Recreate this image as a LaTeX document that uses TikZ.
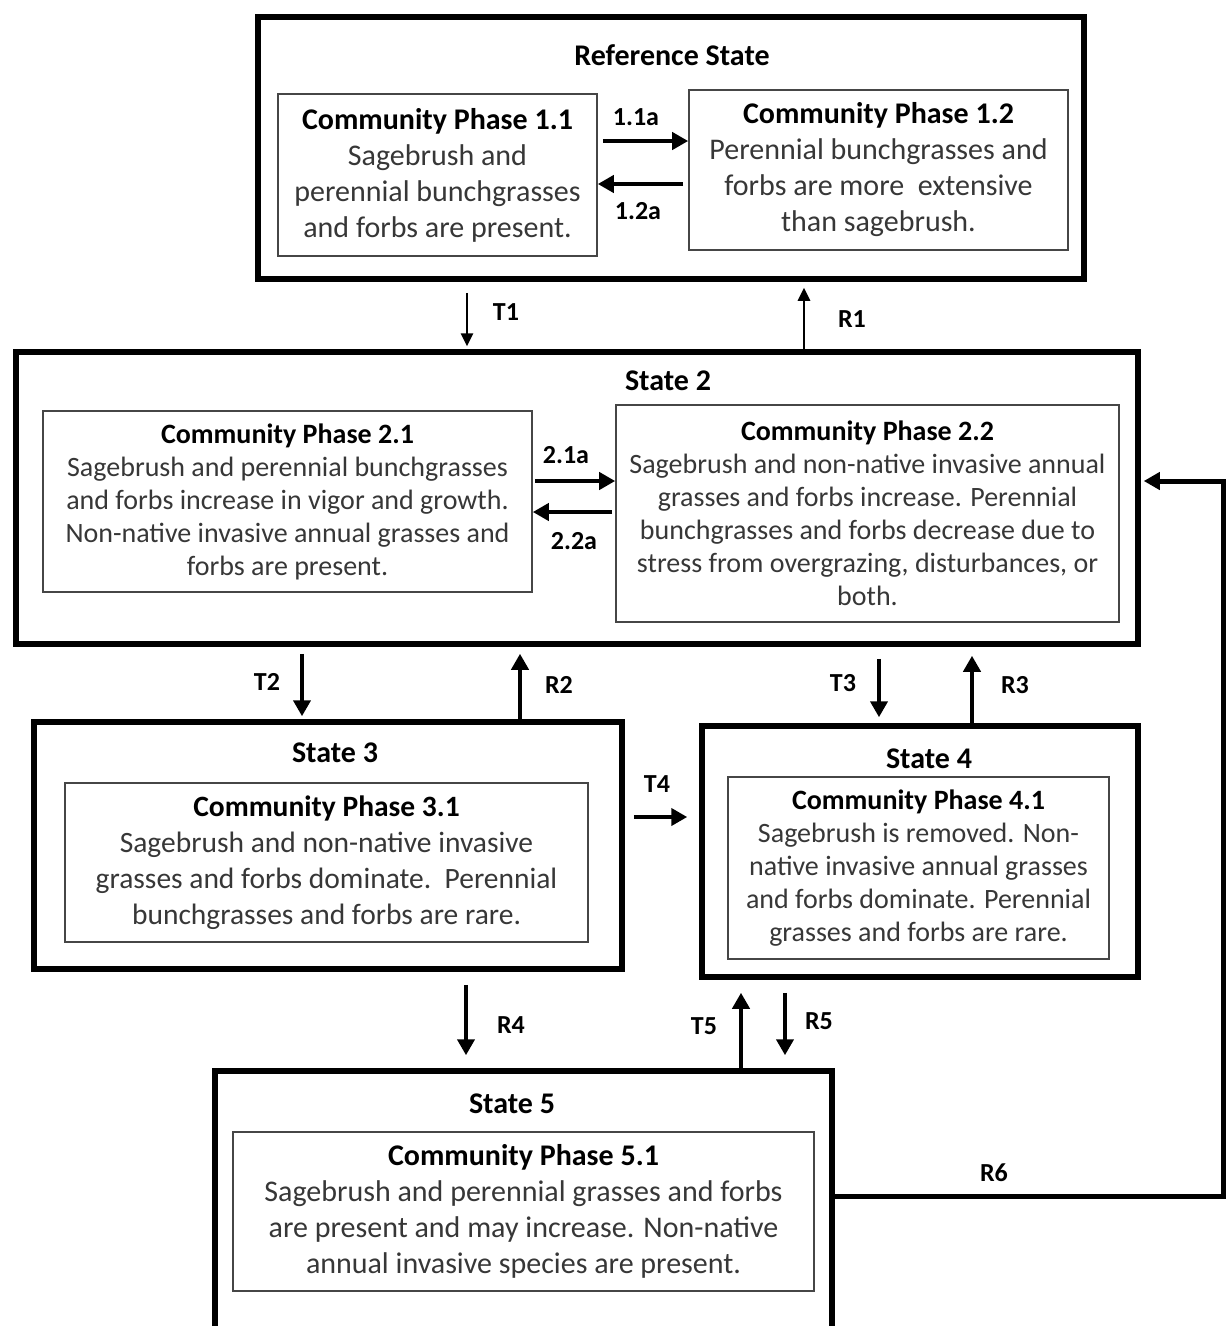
\documentclass[tikz,border=0pt]{standalone}
\usepackage{fontspec}
\setmainfont{Carlito}
\usetikzlibrary{arrows.meta,calc}
\definecolor{bodytxt}{RGB}{55,55,55}
\definecolor{innerln}{RGB}{70,70,70}
\begin{document}
\begin{tikzpicture}[x=1pt,y=-1pt,
  statebox/.style={draw=black, line width=5.5pt, inner sep=0pt},
  phasebox/.style={draw=innerln, line width=1.6pt, inner sep=0pt, align=center, text=bodytxt,
     font=\fontsize{30}{36}\selectfont},
  condbox/.style={draw=innerln, line width=1.6pt, inner sep=0pt, align=center, text=bodytxt,
     font=\fontsize{28}{33}\selectfont},
  statetitle/.style={font=\bfseries\fontsize{30}{34}\selectfont, inner sep=0pt},
  lbl/.style={font=\bfseries\fontsize{26}{30}\selectfont, inner sep=0pt},
  arr/.style={line width=4.5pt, -{Triangle[length=16pt,width=17pt]}},
  thinarr/.style={line width=2.6pt, -{Triangle[length=13pt,width=12pt]}}
]
\clip (0,0) rectangle (1227,1326);
\fill[white] (0,0) rectangle (1227,1326);

% Reference state
\node[statebox, minimum width=826pt, minimum height=262pt] (rs) at (671,148) {};
\node[statetitle] (rst) at (672,55) {Reference State};
\node[phasebox, minimum width=319pt, minimum height=162pt] (cp11) at (437.5,175)
  {{\bfseries\color{black}Community Phase 1.1}\\Sagebrush and\\perennial bunchgrasses\\and forbs are present.};
\node[phasebox, minimum width=379pt, minimum height=160pt] (cp12) at (878.5,170)
  {{\bfseries\color{black}Community Phase 1.2}\\Perennial bunchgrasses and\\forbs are more\ \ extensive\\than sagebrush.};
\draw[arr] ([xshift=5pt]cp11.east |- 0,141) -- (cp12.west |- 0,141);
\draw[arr] ([xshift=-5pt]cp12.west |- 0,184) -- (cp11.east |- 0,184);
\node[lbl] (l11a) at (636,117) {1.1a};
\node[lbl] (l12a) at (638,211) {1.2a};

% State 2
\node[statebox, minimum width=1122pt, minimum height=292pt] (s2) at (577,498) {};
\node[statetitle] (s2t) at (668,381) {State 2};
\node[condbox, minimum width=489pt, minimum height=181pt] (cp21) at (287.5,501.5)
  {{\bfseries\color{black}Community Phase 2.1}\\Sagebrush and perennial bunchgrasses\\and forbs increase in vigor and growth.\\Non-native invasive annual grasses and\\forbs are present.};
\node[condbox, minimum width=503pt, minimum height=217pt] (cp22) at (867.5,513.5)
  {{\bfseries\color{black}Community Phase 2.2}\\Sagebrush and non-native invasive annual\\grasses and forbs increase. Perennial\\bunchgrasses and forbs decrease due to\\stress from overgrazing, disturbances, or\\both.};
\draw[arr] ([xshift=2pt]cp21.east |- 0,481) -- (cp22.west |- 0,481);
\draw[arr] ([xshift=-3pt]cp22.west |- 0,512) -- (cp21.east |- 0,512);
\node[lbl] (l21a) at (566,455) {2.1a};
\node[lbl] (l22a) at (574,541) {2.2a};

% State 3
\node[statebox, minimum width=588pt, minimum height=247pt] (s3) at (328,845.5) {};
\node[statetitle] (s3t) at (335,753) {State 3};
\node[phasebox, minimum width=523pt, minimum height=159pt, font=\fontsize{29.5}{36}\selectfont] (cp31) at (326.5,862.5)
  {{\bfseries\color{black}Community Phase 3.1}\\Sagebrush and non-native invasive\\grasses and forbs dominate.\ \ Perennial\\bunchgrasses and forbs are rare.};

% State 4
\node[statebox, minimum width=436pt, minimum height=251pt] (s4) at (920,851.5) {};
\node[statetitle] (s4t) at (929,759) {State 4};
\node[condbox, minimum width=381pt, minimum height=182pt] (cp41) at (918.5,868)
  {{\bfseries\color{black}Community Phase 4.1}\\Sagebrush is removed. Non-\\native invasive annual grasses\\and forbs dominate. Perennial\\grasses and forbs are rare.};

% State 5
\node[statebox, minimum width=617pt, minimum height=274pt] (s5) at (523.5,1208) {};
\node[statetitle] (s5t) at (512,1104) {State 5};
\node[phasebox, minimum width=581pt, minimum height=159pt] (cp51) at (523.5,1211.5)
  {{\bfseries\color{black}Community Phase 5.1}\\Sagebrush and perennial grasses and forbs\\are present and may increase. Non-native\\annual invasive species are present.};

% Transitions between states
\draw[thinarr, shorten <=11pt, shorten >=3pt] (rs.south -| 467,0) -- (s2.north -| 467,0);
\node[lbl] (lt1) at (506,312) {T1};
\draw[thinarr, shorten >=6pt] (s2.north -| 804,0) -- (rs.south -| 804,0);
\node[lbl] (lr1) at (852,319) {R1};

\draw[arr, shorten <=7pt, shorten >=3pt] (s2.south -| 302,0) -- (s3.north -| 302,0);
\node[lbl] (lt2) at (267,682) {T2};
\draw[arr, shorten >=7pt] (s3.north -| 520,0) -- (s2.south -| 520,0);
\node[lbl] (lr2) at (559,685) {R2};

\draw[arr, shorten <=12pt, shorten >=6pt] (s2.south -| 879,0) -- (s4.north -| 879,0);
\node[lbl] (lt3) at (843,683) {T3};
\draw[arr, shorten >=9pt] (s4.north -| 972,0) -- (s2.south -| 972,0);
\node[lbl] (lr3) at (1015,685) {R3};

\draw[arr, shorten <=9pt, shorten >=12pt] (s3.east |- 0,817) -- (s4.west |- 0,817);
\node[lbl] (lt4) at (657,784) {T4};

\draw[arr, shorten <=13pt, shorten >=13pt] (s3.south -| 466,0) -- (s5.north -| 466,0);
\node[lbl] (lr4) at (511,1025) {R4};
\draw[arr, shorten >=13pt] (s5.north -| 741,0) -- (s4.south -| 741,0);
\node[lbl] (lt5) at (704,1026) {T5};
\draw[arr, shorten <=13pt, shorten >=13pt] (s4.south -| 785,0) -- (s5.north -| 785,0);
\node[lbl] (lr5) at (819,1021) {R5};

\coordinate (r6c) at (1223,481);
\draw[arr, line width=5pt, shorten >=3pt] (s5.east |- 0,1196) -| (r6c) -- (s2.east |- r6c);
\node[lbl] (lr6) at (994,1173) {R6};
\end{tikzpicture}
\end{document}
